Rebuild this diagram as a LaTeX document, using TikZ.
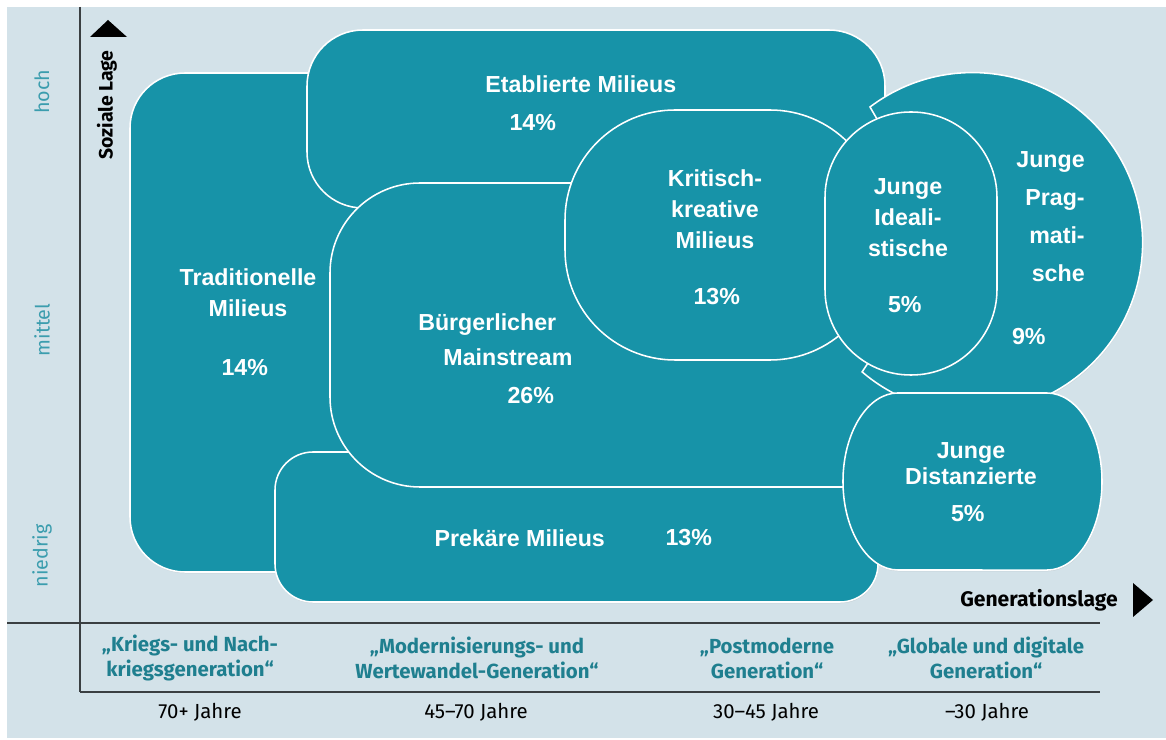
\documentclass[tikz,border=0pt]{standalone}
\usepackage{fontspec}
\setmainfont{Liberation Sans}
\newfontfamily\axisfont{Fira Sans}
\usetikzlibrary{shadows, positioning}
\definecolor{milieuteal}{HTML}{1793A8}
\definecolor{panelgrey}{HTML}{D3E2E9}
\definecolor{genteal}{HTML}{1F7F8F}
\definecolor{sideteal}{HTML}{3B9DAE}
\definecolor{axisgrey}{HTML}{3A3F42}

\begin{document}
\begin{tikzpicture}[x=0.025cm, y=-0.025cm,
    milieu/.style={fill=milieuteal, draw=white, line width=1.1pt,
        drop shadow={opacity=0.18, shadow xshift=0.3pt, shadow yshift=-0.9pt}},
    lbl/.style={text=white, align=center, inner sep=0pt,
        font=\bfseries\fontsize{16.5}{22}\selectfont},
    gen/.style={text=genteal, align=center, inner sep=0pt,
        font=\axisfont\bfseries\fontsize{14.5}{17.7}\selectfont},
    age/.style={text=black, inner sep=0pt, font=\axisfont\fontsize{14.5}{16}\selectfont},
    side/.style={text=sideteal, rotate=90, inner sep=0pt, font=\axisfont\fontsize{14}{16}\selectfont},
    axisname/.style={text=black, inner sep=0pt, font=\axisfont\bfseries\fontsize{15}{16}\selectfont},
    axisline/.style={draw=axisgrey, line width=0.9pt}]

    \useasboundingbox (0, 0) rectangle (1166, 740);
    \fill[white] (0, 0) rectangle (1166, 740);
    \fill[panelgrey] (7, 7) rectangle (1166, 738);

    \coordinate (ytop) at (80, 7);
    \coordinate (ybot) at (80, 692);
    \coordinate (xleft) at (7, 623);
    \coordinate (xright) at (1100, 623);
    \coordinate (bright) at (1100, 692);
    \draw[axisline] (ytop) -- (ybot);
    \draw[axisline] (xleft) -- (xright);
    \draw[axisline] (ybot) -- (bright);
    \fill (90, 37) -- (108, 20) -- (127, 37) -- cycle;
    \fill (1133, 583) -- (1153, 600) -- (1133, 617) -- cycle;

    \path[milieu, rounded corners=1.375cm] (130, 73) rectangle (520, 572);
    \path[milieu, rounded corners=0.95cm] (275, 452) rectangle (878, 602);
    \path[milieu, rounded corners=1.4cm] (307, 30) rectangle (885, 208);
    \path[milieu, rounded corners=2.25cm] (330, 183) rectangle (990, 487);
    \path[milieu, rounded corners=2.75cm] (565, 110) rectangle (880, 360);
    \path[milieu] (877, 119) -- (870, 107)
        arc[start angle=127.1, end angle=-130.5, radius=4.25cm]
        -- (868, 363) -- (911, 289) -- (911, 198) -- cycle;
    \path[milieu, rounded corners=2.14cm] (825, 112) rectangle (997, 375);
    \path[milieu] (898, 393) -- (1047, 393)
        arc[start angle=90, end angle=-90, x radius=1.375cm, y radius=2.2125cm]
        -- (898, 570)
        arc[start angle=-90, end angle=-270, x radius=1.375cm, y radius=2.2125cm]
        -- cycle;

    \node (trad) [lbl] at (248, 293) { Traditionelle\\ Milieus };
    \node (tradpct) [lbl] at (248, 368) { 14\% };
    \node (etab) [lbl] at (584, 84) { Etablierte Milieus };
    \node (etabpct) [lbl] at (536, 123) { 14\% };
    \node (buerg) [lbl, anchor=west, align=left, font=\bfseries\fontsize{16.5}{25}\selectfont]
        at (418, 340) { Bürgerlicher\\ \hspace*{0.63cm}Mainstream };
    \node (buergpct) [lbl] at (534, 396) { 26\% };
    \node (krit) [lbl] at (715, 209) { Kritisch-\\ kreative\\ Milieus };
    \node (kritpct) [lbl] at (720, 297) { 13\% };
    \node (ideal) [lbl] at (908, 218) { Junge\\ Ideali-\\ stische };
    \node (idealpct) [lbl] at (908, 305) { 5\% };
    \node (prag) [lbl, align=right, anchor=east, font=\bfseries\fontsize{16.5}{27}\selectfont]
        at (1085, 217) { Junge\\ Prag-\\ mati-\\ sche };
    \node (pragpct) [lbl] at (1032, 337) { 9\% };
    \node (dist) [lbl, font=\bfseries\fontsize{16.5}{18.4}\selectfont] at (971, 464) { Junge\\ Distanzierte };
    \node (distpct) [lbl] at (971, 514) { 5\% };
    \node (prek) [lbl] at (523, 538) { Prekäre Milieus };
    \node (prekpct) [lbl] at (692, 538) { 13\% };

    \node (hoch) [side] at (42, 92) { hoch };
    \node (mittel) [side] at (42, 330) { mittel };
    \node (niedrig) [side] at (42, 556) { niedrig };
    \node (sozial) [axisname, rotate=90, font=\axisfont\bfseries\fontsize{13.8}{16}\selectfont]
        at (107, 105) { Soziale Lage };
    \node (genlage) [axisname] at (1039, 600) { Generationslage };

    \node (krieg) [gen] at (190, 658) { „Kriegs- und Nach-\\ kriegsgeneration“ };
    \node (wandel) [gen] at (477, 658) { „Modernisierungs- und\\ Wertewandel-Generation“ };
    \node (postmod) [gen] at (767, 658) { „Postmoderne\\ Generation“ };
    \node (digital) [gen] at (986, 658) { „Globale und digitale\\ Generation“ };

    \node (age1) [age] at (200, 712) { 70+ Jahre };
    \node (age2) [age] at (476, 712) { 45–70 Jahre };
    \node (age3) [age] at (766, 712) { 30–45 Jahre };
    \node (age4) [age] at (987, 712) { –30 Jahre };

\end{tikzpicture}
\end{document}
